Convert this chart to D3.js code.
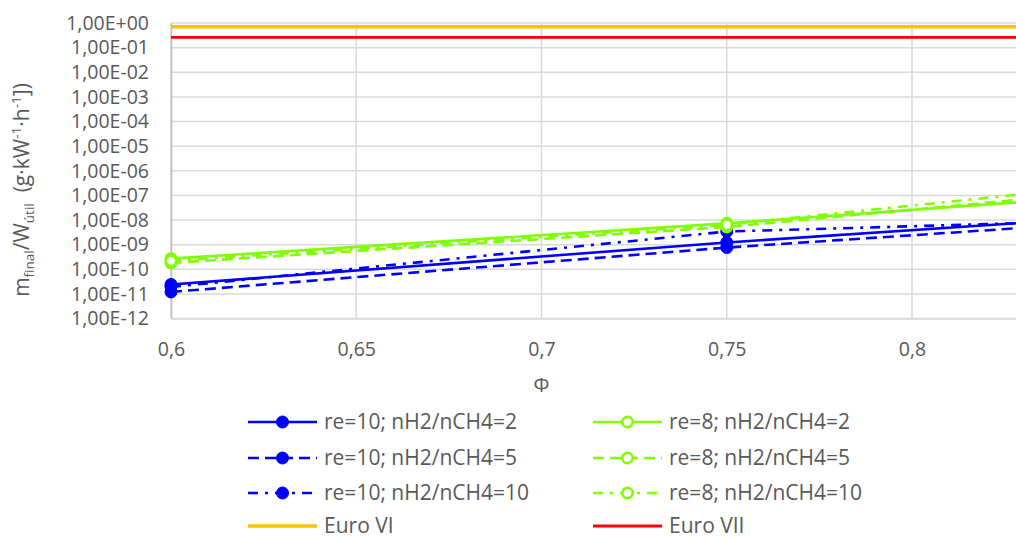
<!DOCTYPE html>
<html>
<head>
<meta charset="utf-8">
<script src="https://cdn.jsdelivr.net/npm/d3@7/dist/d3.min.js"></script>
<style>
  html, body { margin: 0; padding: 0; background: #fff; }
  svg { display: block; }
  text { font-family: "Open Sans", "Noto Sans", sans-serif; fill: #595959; }
</style>
</head>
<body>
<svg id="chart" width="1016" height="540"></svg>
<script>
// Equivalence ratio (Φ) at which each case was evaluated
const phi = [0.6, 0.75, 0.9];

// Specific emission m_final / W_útil (g·kW-1·h-1) per case
const re10_h2_2  = [2.4e-11, 1.22e-9, 3.9e-8];
const re10_h2_5  = [1.2e-11, 7.6e-10, 2.4e-8];
const re10_h2_10 = [1.9e-11, 3.4e-9, 1.5e-8];
const re8_h2_2   = [2.7e-10, 7.3e-9, 3.2e-7];
const re8_h2_5   = [1.8e-10, 5.2e-9, 6.7e-7];
const re8_h2_10  = [2.2e-10, 6.4e-9, 1.4e-6];

// Regulatory limits (constant over Φ)
const euroVI  = 0.7;
const euroVII = 0.26;

// Axis ticks
const xGrid = [0.6, 0.65, 0.7, 0.75, 0.8, 0.85, 0.9];
const xTickLabels = [0.6, 0.65, 0.7, 0.75, 0.8];
const yExponents = [0, -1, -2, -3, -4, -5, -6, -7, -8, -9, -10, -11, -12];

const seriesNames = [
  "re=10; nH2/nCH4=2", "re=10; nH2/nCH4=5", "re=10; nH2/nCH4=10",
  "re=8; nH2/nCH4=2", "re=8; nH2/nCH4=5", "re=8; nH2/nCH4=10",
  "Euro VI", "Euro VII"
];

const BLUE = "#0000ff", GREEN = "#80ff00", ORANGE = "#ffc000", RED = "#ff0000";
const DASH = "11,6", DASHDOT = "10,7,3,7";

const series = [
  { name: seriesNames[0], values: re10_h2_2,  color: BLUE,  dash: null,    marker: "filled" },
  { name: seriesNames[1], values: re10_h2_5,  color: BLUE,  dash: DASH,    marker: "filled" },
  { name: seriesNames[2], values: re10_h2_10, color: BLUE,  dash: DASHDOT, marker: "filled" },
  { name: seriesNames[3], values: re8_h2_2,   color: GREEN, dash: null,    marker: "open" },
  { name: seriesNames[4], values: re8_h2_5,   color: GREEN, dash: DASH,    marker: "open" },
  { name: seriesNames[5], values: re8_h2_10,  color: GREEN, dash: DASHDOT, marker: "open" },
  { name: seriesNames[6], values: phi.map(() => euroVI),  color: ORANGE, dash: null, marker: null, width: 3.5 },
  { name: seriesNames[7], values: phi.map(() => euroVII), color: RED,    dash: null, marker: null, width: 2.8 }
];

const svg = d3.select("#chart");

const plot = { left: 171, top: 23, bottom: 318.5 };
const x = d3.scaleLinear().domain([0.6, 0.9]).range([plot.left, plot.left + 6 * 185.25]);
const y = d3.scaleLog().domain([1e-12, 1]).range([plot.bottom, plot.top]);

const fmtSci = v => {
  const e = Math.round(Math.log10(v));
  const s = e >= 0 ? "+" : "-";
  return "1,00E" + s + String(Math.abs(e)).padStart(2, "0");
};
const fmtPhi = v => String(+v.toFixed(2)).replace(".", ",");

// Gridlines
const grid = svg.append("g").attr("stroke", "#d9d9d9").attr("stroke-width", 1.5);
grid.selectAll("line.h").data(yExponents).join("line")
  .attr("x1", plot.left).attr("x2", x(0.9))
  .attr("y1", d => y(Math.pow(10, d))).attr("y2", d => y(Math.pow(10, d)));
grid.selectAll("line.v").data(xGrid).join("line")
  .attr("x1", d => x(d)).attr("x2", d => x(d))
  .attr("y1", plot.top).attr("y2", plot.bottom);

// Axes
const yAxis = d3.axisLeft(y)
  .tickValues(yExponents.map(e => Math.pow(10, e)))
  .tickFormat(fmtSci).tickSize(0).tickPadding(22);
const gy = svg.append("g").attr("transform", `translate(${plot.left},0)`).call(yAxis);
gy.select(".domain").attr("stroke", "#bfbfbf").attr("stroke-width", 1.5);
gy.selectAll("text").attr("font-size", 19.5).attr("fill", "#595959")
  .style("font-family", '"Open Sans", sans-serif');

const xAxis = d3.axisBottom(x).tickValues(xTickLabels).tickFormat(fmtPhi).tickSize(0).tickPadding(24);
const gx = svg.append("g").attr("transform", `translate(0,${plot.bottom})`).call(xAxis);
gx.select(".domain").attr("stroke", "#d9d9d9").attr("stroke-width", 1.5);
gx.selectAll("text").attr("font-size", 19.5).attr("fill", "#595959")
  .style("font-family", '"Open Sans", sans-serif');

// Series lines and markers
const line = d3.line().x((d, i) => x(phi[i])).y(d => y(d));
const marks = svg.append("g");
series.forEach(s => {
  marks.append("path")
    .attr("d", line(s.values))
    .attr("fill", "none")
    .attr("stroke", s.color)
    .attr("stroke-width", s.width || 2.6)
    .attr("stroke-dasharray", s.dash);
  if (s.marker) {
    marks.selectAll(null).data(s.values).join("circle")
      .attr("cx", (d, i) => x(phi[i]))
      .attr("cy", d => y(d))
      .attr("r", s.marker === "filled" ? 6 : 5.2)
      .attr("fill", s.marker === "filled" ? s.color : "#fff")
      .attr("stroke", s.color)
      .attr("stroke-width", s.marker === "filled" ? 1 : 2.6);
  }
});

// Axis titles
svg.append("text")
  .attr("x", x(0.7)).attr("y", 392)
  .attr("text-anchor", "middle").attr("font-size", 20)
  .text("Φ");

const yt = svg.append("text")
  .attr("transform", "translate(29,190) rotate(-90)")
  .attr("text-anchor", "middle").attr("font-size", 21);
yt.append("tspan").text("m");
yt.append("tspan").attr("font-size", 13.5).attr("dy", 5).text("final");
yt.append("tspan").attr("dy", -5).text("/W");
yt.append("tspan").attr("font-size", 13.5).attr("dy", 5).text("útil");
yt.append("tspan").attr("dy", -5).text("\u00a0\u00a0(g·kW");
yt.append("tspan").attr("font-size", 13.5).attr("dy", -8).text("-1");
yt.append("tspan").attr("dy", 8).text("·h");
yt.append("tspan").attr("font-size", 13.5).attr("dy", -8).text("-1");
yt.append("tspan").attr("dy", 8).text("])");

// Legend: two columns, four rows
const legendCols = [248, 593];
const legendRows = [422, 458, 493, 526];
const legend = svg.append("g");
series.forEach((s, i) => {
  const col = i < 6 ? (i < 3 ? 0 : 1) : (i === 6 ? 0 : 1);
  const row = i < 6 ? i % 3 : 3;
  const lx = legendCols[col], ly = legendRows[row];
  const g = legend.append("g").attr("transform", `translate(${lx},${ly})`);
  g.append("line").attr("x1", 0).attr("x2", 69).attr("y1", 0).attr("y2", 0)
    .attr("stroke", s.color).attr("stroke-width", s.width || 2.6)
    .attr("stroke-dasharray", s.dash);
  if (s.marker) {
    g.append("circle").attr("cx", 34.5).attr("cy", 0)
      .attr("r", s.marker === "filled" ? 6 : 5.2)
      .attr("fill", s.marker === "filled" ? s.color : "#fff")
      .attr("stroke", s.color)
      .attr("stroke-width", s.marker === "filled" ? 1 : 2.6);
  }
  g.append("text").attr("x", 76).attr("y", 0).attr("dy", "0.35em")
    .attr("font-size", 21).text(s.name);
});
</script>
</body>
</html>
